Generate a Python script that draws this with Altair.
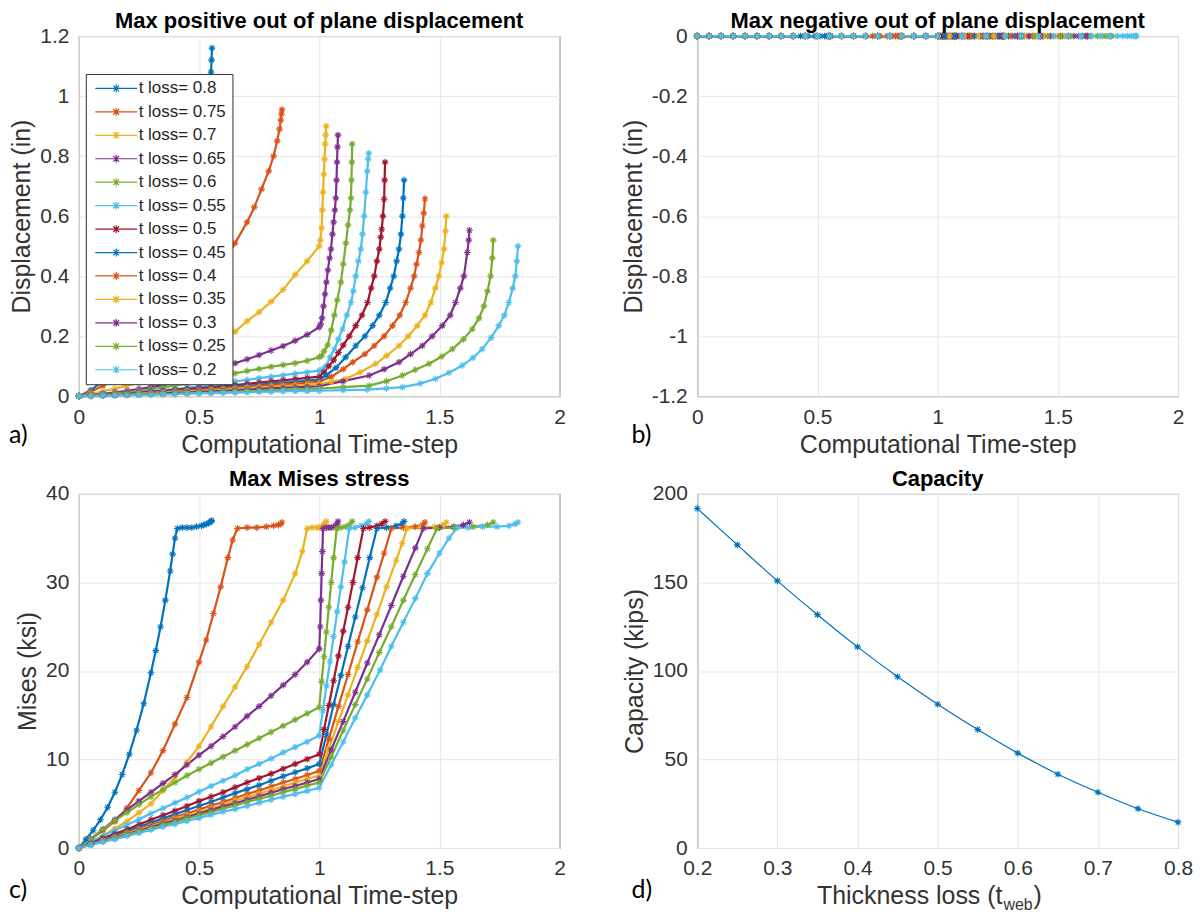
import altair as alt
import pandas as pd

# ---------------- data ----------------
LOSSES = ["0.8", "0.75", "0.7", "0.65", "0.6", "0.55", "0.5", "0.45", "0.4", "0.35", "0.3", "0.25", "0.2"]
LABELS = ["t loss= " + s for s in LOSSES]
COLORS = ["#0072BD", "#D95319", "#EDB120", "#7E2F8E", "#77AC30", "#4DBEEE", "#A2142F",
          "#0072BD", "#D95319", "#EDB120", "#7E2F8E", "#77AC30", "#4DBEEE"]

PRE_T = [0, 0.05, 0.1, 0.15, 0.2, 0.25, 0.3, 0.35, 0.4, 0.45, 0.5, 0.55, 0.6, 0.65, 0.7,
         0.75, 0.8, 0.85, 0.9, 0.95, 1.0]

# panel a: max positive out-of-plane displacement (in)
DISP_T = {
    "0.8": [0, 0.05, 0.1, 0.15, 0.2, 0.25, 0.3, 0.35, 0.4, 0.43, 0.46, 0.49, 0.51, 0.53, 0.54, 0.545, 0.55, 0.552, 0.554],
    "0.75": [0, 0.05, 0.1, 0.15, 0.2, 0.25, 0.3, 0.35, 0.4, 0.45, 0.5, 0.55, 0.6, 0.65, 0.7, 0.73, 0.76, 0.79, 0.81, 0.825, 0.835, 0.84, 0.843, 0.845],
    "0.7": PRE_T + [1.005, 1.01, 1.013, 1.016, 1.019, 1.022, 1.025, 1.027, 1.029],
    "0.65": PRE_T + [1.006, 1.012, 1.018, 1.024, 1.03, 1.036, 1.043, 1.049, 1.055, 1.06, 1.065, 1.069, 1.072, 1.074, 1.076, 1.078],
    "0.6": PRE_T + [1.01, 1.02, 1.035, 1.05, 1.063, 1.075, 1.09, 1.1, 1.111, 1.12, 1.128, 1.132, 1.134, 1.136, 1.137],
    "0.55": PRE_T + [1.015, 1.028, 1.045, 1.063, 1.08, 1.097, 1.115, 1.132, 1.142, 1.152, 1.163, 1.173, 1.18, 1.187, 1.194, 1.2, 1.204, 1.206],
    "0.5": PRE_T + [1.02, 1.04, 1.06, 1.08, 1.1, 1.125, 1.152, 1.178, 1.201, 1.216, 1.229, 1.24, 1.25, 1.256, 1.26, 1.265, 1.27, 1.272, 1.274],
    "0.45": PRE_T + [1.03, 1.07, 1.11, 1.152, 1.19, 1.222, 1.25, 1.277, 1.295, 1.31, 1.322, 1.332, 1.34, 1.346, 1.35, 1.353],
    "0.4": PRE_T + [1.05, 1.1, 1.139, 1.19, 1.229, 1.27, 1.305, 1.335, 1.36, 1.38, 1.395, 1.405, 1.415, 1.423, 1.429, 1.435, 1.44],
    "0.35": PRE_T + [1.05, 1.111, 1.17, 1.235, 1.28, 1.332, 1.37, 1.408, 1.44, 1.464, 1.483, 1.498, 1.509, 1.519, 1.525, 1.529],
    "0.3": PRE_T + [1.1, 1.208, 1.27, 1.332, 1.38, 1.429, 1.47, 1.512, 1.545, 1.567, 1.587, 1.602, 1.616, 1.622, 1.625],
    "0.25": PRE_T + [1.1, 1.208, 1.28, 1.346, 1.4, 1.457, 1.51, 1.554, 1.6, 1.637, 1.665, 1.685, 1.7, 1.713, 1.72, 1.724],
    "0.2": PRE_T + [1.1, 1.2, 1.28, 1.346, 1.42, 1.484, 1.54, 1.595, 1.64, 1.678, 1.715, 1.747, 1.77, 1.789, 1.805, 1.816, 1.822, 1.827],
}
DISP_V = {
    "0.8": [0, 0.02, 0.05, 0.08, 0.12, 0.16, 0.21, 0.27, 0.36, 0.43, 0.52, 0.64, 0.74, 0.86, 0.95, 1.02, 1.08, 1.12, 1.16],
    "0.75": [0, 0.015, 0.035, 0.055, 0.08, 0.11, 0.14, 0.18, 0.22, 0.27, 0.32, 0.38, 0.44, 0.51, 0.58, 0.63, 0.69, 0.75, 0.8, 0.85, 0.89, 0.92, 0.94, 0.955],
    "0.7": [0, 0.008, 0.016, 0.025, 0.035, 0.045, 0.057, 0.07, 0.085, 0.1, 0.12, 0.145, 0.18, 0.215, 0.25, 0.28, 0.315, 0.355, 0.405, 0.45, 0.5,
            0.52, 0.56, 0.62, 0.68, 0.74, 0.79, 0.84, 0.87, 0.9],
    "0.65": [0, 0.004, 0.008, 0.013, 0.018, 0.024, 0.03, 0.037, 0.045, 0.054, 0.064, 0.076, 0.09, 0.11, 0.123, 0.137, 0.152, 0.167, 0.185, 0.205, 0.23,
             0.24, 0.26, 0.3, 0.34, 0.38, 0.42, 0.46, 0.49, 0.54, 0.58, 0.62, 0.66, 0.72, 0.78, 0.83, 0.87],
    "0.6": [0, 0.003, 0.006, 0.009, 0.013, 0.018, 0.023, 0.029, 0.035, 0.042, 0.05, 0.06, 0.068, 0.076, 0.084, 0.091, 0.098, 0.104, 0.11, 0.118, 0.13,
            0.135, 0.15, 0.17, 0.22, 0.27, 0.32, 0.38, 0.44, 0.51, 0.57, 0.62, 0.66, 0.72, 0.78, 0.84],
    "0.55": [0, 0.002, 0.004, 0.007, 0.01, 0.013, 0.016, 0.02, 0.024, 0.028, 0.033, 0.038, 0.043, 0.049, 0.054, 0.06, 0.065, 0.07, 0.075, 0.08, 0.085,
             0.09, 0.1, 0.13, 0.157, 0.19, 0.224, 0.27, 0.312, 0.35, 0.4, 0.45, 0.49, 0.54, 0.6, 0.68, 0.75, 0.79, 0.81],
    "0.5": [0, 0.002, 0.004, 0.006, 0.009, 0.012, 0.015, 0.018, 0.021, 0.024, 0.027, 0.03, 0.034, 0.037, 0.041, 0.045, 0.049, 0.053, 0.057, 0.061, 0.065,
            0.08, 0.1, 0.12, 0.145, 0.17, 0.2, 0.235, 0.27, 0.312, 0.36, 0.4, 0.45, 0.49, 0.53, 0.556, 0.6, 0.656, 0.72, 0.78],
    "0.45": [0, 0.002, 0.004, 0.006, 0.008, 0.01, 0.013, 0.015, 0.018, 0.02, 0.023, 0.026, 0.029, 0.032, 0.035, 0.038, 0.042, 0.045, 0.048, 0.052, 0.055,
             0.07, 0.095, 0.13, 0.168, 0.2, 0.235, 0.27, 0.312, 0.36, 0.4, 0.45, 0.49, 0.54, 0.6, 0.66, 0.72],
    "0.4": [0, 0.002, 0.003, 0.005, 0.007, 0.009, 0.011, 0.013, 0.016, 0.018, 0.02, 0.023, 0.025, 0.028, 0.031, 0.034, 0.037, 0.04, 0.042, 0.045, 0.048,
            0.065, 0.09, 0.113, 0.14, 0.168, 0.2, 0.235, 0.27, 0.312, 0.36, 0.4, 0.44, 0.479, 0.52, 0.567, 0.61, 0.658],
    "0.35": [0, 0.001, 0.003, 0.004, 0.006, 0.008, 0.01, 0.012, 0.014, 0.016, 0.018, 0.02, 0.022, 0.024, 0.027, 0.029, 0.031, 0.033, 0.035, 0.038, 0.04,
             0.048, 0.058, 0.08, 0.108, 0.135, 0.168, 0.2, 0.235, 0.27, 0.312, 0.36, 0.4, 0.445, 0.49, 0.55, 0.6],
    "0.3": [0, 0.001, 0.002, 0.003, 0.005, 0.006, 0.008, 0.009, 0.011, 0.013, 0.015, 0.016, 0.018, 0.02, 0.022, 0.024, 0.026, 0.028, 0.029, 0.031, 0.033,
            0.05, 0.069, 0.09, 0.113, 0.14, 0.168, 0.2, 0.235, 0.27, 0.312, 0.36, 0.4, 0.479, 0.52, 0.553],
    "0.25": [0, 0.001, 0.002, 0.003, 0.004, 0.005, 0.006, 0.007, 0.008, 0.01, 0.011, 0.012, 0.014, 0.015, 0.017, 0.018, 0.02, 0.021, 0.022, 0.024, 0.025,
             0.03, 0.035, 0.05, 0.069, 0.088, 0.108, 0.132, 0.157, 0.19, 0.224, 0.26, 0.3, 0.35, 0.4, 0.46, 0.52],
    "0.2": [0, 0.001, 0.002, 0.002, 0.003, 0.004, 0.005, 0.006, 0.007, 0.008, 0.009, 0.01, 0.011, 0.012, 0.013, 0.014, 0.015, 0.016, 0.017, 0.017, 0.018,
            0.02, 0.022, 0.026, 0.03, 0.042, 0.058, 0.078, 0.102, 0.128, 0.157, 0.195, 0.235, 0.27, 0.312, 0.36, 0.4, 0.45, 0.5],
}

# panel b: max negative out-of-plane displacement reads 0 (in) for every series
NEG_LEVEL = 0.0

# panel c: max Mises stress (ksi)
MISES_T = {
    "0.8": [0, 0.03, 0.06, 0.09, 0.12, 0.15, 0.18, 0.21, 0.24, 0.27, 0.3, 0.32, 0.34, 0.36, 0.38, 0.39, 0.4, 0.41, 0.43, 0.45, 0.47, 0.49, 0.51, 0.52, 0.53, 0.54, 0.545, 0.55, 0.553],
    "0.75": [0, 0.05, 0.1, 0.15, 0.2, 0.25, 0.3, 0.35, 0.4, 0.45, 0.5, 0.53, 0.56, 0.59, 0.62, 0.64, 0.66, 0.7, 0.74, 0.78, 0.81, 0.83, 0.84, 0.845],
    "0.7": [0, 0.05, 0.1, 0.15, 0.2, 0.25, 0.3, 0.35, 0.4, 0.45, 0.5, 0.55, 0.6, 0.65, 0.7, 0.75, 0.8, 0.85, 0.9, 0.93, 0.95, 0.97, 0.99, 1.0, 1.01, 1.02, 1.025, 1.029],
    "0.65": PRE_T + [1.004, 1.007, 1.01, 1.013, 1.016, 1.03, 1.04, 1.05, 1.06, 1.07, 1.075, 1.078],
    "0.6": PRE_T + [1.01, 1.02, 1.03, 1.04, 1.05, 1.06, 1.073, 1.09, 1.11, 1.125, 1.137],
    "0.55": PRE_T + [1.015, 1.03, 1.045, 1.06, 1.075, 1.09, 1.105, 1.125, 1.15, 1.175, 1.195, 1.206],
    "0.5": PRE_T + [1.02, 1.04, 1.06, 1.08, 1.1, 1.12, 1.14, 1.16, 1.184, 1.21, 1.24, 1.26, 1.274],
    "0.45": PRE_T + [1.03, 1.06, 1.09, 1.12, 1.15, 1.18, 1.21, 1.24, 1.28, 1.32, 1.345, 1.353],
    "0.4": PRE_T + [1.04, 1.08, 1.12, 1.16, 1.2, 1.24, 1.27, 1.3, 1.35, 1.4, 1.43, 1.44],
    "0.35": PRE_T + [1.04, 1.08, 1.12, 1.16, 1.2, 1.24, 1.28, 1.32, 1.345, 1.365, 1.42, 1.48, 1.515, 1.529],
    "0.3": PRE_T + [1.05, 1.1, 1.15, 1.2, 1.25, 1.3, 1.35, 1.4, 1.433, 1.5, 1.56, 1.6, 1.625],
    "0.25": PRE_T + [1.05, 1.1, 1.15, 1.2, 1.25, 1.3, 1.35, 1.4, 1.45, 1.49, 1.56, 1.64, 1.7, 1.724],
    "0.2": PRE_T + [1.05, 1.1, 1.15, 1.2, 1.253, 1.3, 1.35, 1.4, 1.45, 1.5, 1.54, 1.575, 1.62, 1.68, 1.74, 1.79, 1.815, 1.827],
}
MISES_V = {
    "0.8": [0, 1, 2, 3.2, 4.6, 6.3, 8.3, 10.6, 13.3, 16.3, 19.8, 22.3, 25, 28, 31.3, 33.2, 35, 36.1, 36.2, 36.2, 36.2, 36.3, 36.4, 36.5, 36.6, 36.7, 36.8, 36.9, 37],
    "0.75": [0, 1, 2, 3, 4.5, 6.5, 8.5, 11, 14, 17, 21, 23.5, 26.5, 29.5, 32.8, 34.8, 36.1, 36.2, 36.2, 36.3, 36.4, 36.5, 36.6, 36.8],
    "0.7": [0, 0.7, 1.4, 2.2, 3, 4, 5, 6.5, 8, 9.7, 11.5, 13.7, 16, 18.2, 20.5, 23, 25.5, 28, 31, 33.5, 36.1, 36.2, 36.2, 36.2, 36.3, 36.5, 36.7, 36.9],
    "0.65": [0, 1, 2.1, 3.2, 4.3, 5.3, 6.3, 7.3, 8.3, 9.4, 10.5, 11.5, 12.6, 13.7, 14.9, 16, 17.2, 18.4, 19.6, 21, 22.5,
             25, 28, 31, 33.5, 36.1, 36.2, 36.2, 36.2, 36.3, 36.4, 36.6, 36.9],
    "0.6": [0, 1.05, 2.1, 3.1, 4, 4.9, 5.8, 6.6, 7.4, 8.2, 8.9, 9.6, 10.3, 11, 11.7, 12.4, 13.1, 13.8, 14.5, 15.2, 15.9,
            18.8, 21.6, 24.4, 27.2, 30, 32.8, 36.1, 36.2, 36.3, 36.5, 36.9],
    "0.55": [0, 0.7, 1.35, 2, 2.6, 3.25, 3.9, 4.5, 5.1, 5.7, 6.35, 7, 7.6, 8.2, 8.9, 9.5, 10.1, 10.8, 11.4, 12, 12.7,
             15.5, 18.3, 21.1, 23.9, 26.7, 29.5, 32.3, 36.1, 36.2, 36.4, 36.6, 36.9],
    "0.5": [0, 0.55, 1.1, 1.6, 2.1, 2.65, 3.2, 3.7, 4.2, 4.75, 5.3, 5.8, 6.3, 6.85, 7.4, 7.9, 8.4, 8.95, 9.5, 10.05, 10.6,
            13.4, 16.1, 18.9, 21.7, 24.5, 27.2, 30, 32.8, 36.1, 36.2, 36.4, 36.6, 36.9],
    "0.45": [0, 0.5, 0.95, 1.45, 1.9, 2.4, 2.85, 3.35, 3.8, 4.3, 4.75, 5.2, 5.7, 6.2, 6.65, 7.1, 7.6, 8.1, 8.55, 9, 9.5,
             12.8, 16.2, 19.5, 22.8, 26.1, 29.4, 32.8, 36.1, 36.2, 36.4, 36.6, 36.9],
    "0.4": [0, 0.45, 0.9, 1.3, 1.75, 2.2, 2.6, 3.05, 3.5, 3.9, 4.35, 4.8, 5.2, 5.65, 6.1, 6.5, 6.95, 7.4, 7.8, 8.25, 8.7,
            12.3, 16, 19.6, 23.3, 26.9, 30.6, 33.3, 36.1, 36.2, 36.3, 36.5, 36.8],
    "0.35": [0, 0.4, 0.8, 1.2, 1.65, 2.05, 2.45, 2.85, 3.3, 3.7, 4.1, 4.5, 4.9, 5.35, 5.75, 6.15, 6.55, 6.95, 7.4, 7.8, 8.2,
             11.2, 14.3, 17.3, 20.4, 23.4, 26.4, 29.5, 32.5, 34.4, 36.1, 36.2, 36.3, 36.5, 36.8],
    "0.3": [0, 0.4, 0.8, 1.15, 1.55, 1.95, 2.35, 2.75, 3.1, 3.5, 3.9, 4.3, 4.7, 5.05, 5.45, 5.85, 6.25, 6.65, 7, 7.4, 7.8,
            11.1, 14.3, 17.6, 20.9, 24.1, 27.4, 30.7, 33.9, 36.1, 36.2, 36.3, 36.5, 36.8],
    "0.25": [0, 0.35, 0.75, 1.1, 1.5, 1.85, 2.2, 2.6, 2.95, 3.35, 3.7, 4.05, 4.45, 4.8, 5.2, 5.55, 5.9, 6.3, 6.65, 7.05, 7.4,
             10.3, 13.3, 16.2, 19.1, 22.1, 25, 28, 30.9, 33.8, 36.1, 36.2, 36.3, 36.5, 36.8],
    "0.2": [0, 0.35, 0.7, 1, 1.35, 1.7, 2.05, 2.4, 2.7, 3.05, 3.4, 3.75, 4.1, 4.4, 4.75, 5.1, 5.45, 5.8, 6.1, 6.45, 6.8,
            9.4, 12, 14.7, 17.3, 20.1, 22.8, 25.5, 28.2, 31, 33.3, 35, 36.2, 36.2, 36.3, 36.3, 36.4, 36.6, 36.8],
}

# panel d: capacity (kips) vs thickness loss
THICK = [0.2, 0.25, 0.3, 0.35, 0.4, 0.45, 0.5, 0.55, 0.6, 0.65, 0.7, 0.75, 0.8]
CAP = [191.8, 171.2, 150.9, 131.8, 113.6, 96.7, 81.2, 66.9, 53.6, 41.7, 31.5, 22.2, 14.6]

X_TICKS = [0, 0.5, 1, 1.5, 2]
YA_TICKS = [0, 0.2, 0.4, 0.6, 0.8, 1.0, 1.2]
YB_TICKS = [-1.2, -1.0, -0.8, -0.6, -0.4, -0.2, 0]
YC_TICKS = [0, 10, 20, 30, 40]
XD_TICKS = [0.2, 0.3, 0.4, 0.5, 0.6, 0.7, 0.8]
YD_TICKS = [0, 50, 100, 150, 200]

# ---------------- styling ----------------
FONT = "Liberation Sans"
TXT = "#333333"
STAR = "M-1,0L1,0M0,-1L0,1M-0.7,-0.7L0.7,0.7M-0.7,0.7L0.7,-0.7"
LEG_STAR = "M-4,0L4,0M0,-0.75L0,0.75M-0.55,-0.55L0.55,0.55M-0.55,0.55L0.55,-0.55"
W = 482
H_TOP = 361
H_BOT = 355
LABEL_EXPR = "replace(format(datum.value, '~g'), '\u2212', '-')"
TICK_FS = 21
AXT_FS = 25


def frame(T, V):
    rows = []
    for lab, name in zip(LOSSES, LABELS):
        t, v = T[lab], V[lab]
        assert len(t) == len(v), lab
        for i, (a, b) in enumerate(zip(t, v)):
            rows.append({"label": name, "t": a, "v": b, "i": i})
    return pd.DataFrame(rows)


disp_df = frame(DISP_T, DISP_V)
neg_df = frame(DISP_T, {k: [NEG_LEVEL] * len(DISP_T[k]) for k in LOSSES})
mises_df = frame(MISES_T, MISES_V)
cap_df = pd.DataFrame({"tw": THICK, "cap": CAP})


def axis(title, values, label_pad):
    return alt.Axis(title=title, values=values, grid=True, gridColor="#e6e6e6", gridWidth=1,
                    ticks=False, domain=False, labelFont=FONT, labelFontSize=TICK_FS, labelColor=TXT,
                    labelPadding=label_pad, labelFlush=False, labelOverlap=False,
                    labelExpr=LABEL_EXPR, titleFont=FONT, titleFontSize=AXT_FS,
                    titleFontWeight="normal", titleColor=TXT, titlePadding=5)


def title(text):
    return alt.TitleParams(text=text, font=FONT, fontSize=22, fontWeight="bold",
                           color="black", offset=-8, anchor="middle")


def tag_layer(text, x, y):
    return alt.Chart(pd.DataFrame({"s": [text]})).mark_text(
        align="left", baseline="middle", font="Lato", fontSize=25, color="black"
    ).encode(text="s:N", x=alt.value(x), y=alt.value(y))


def series_panel(df, ydom, yticks, ytitle, ttl, tag, tag_x, h, tag_dy, legend):
    x = alt.X("t:Q", scale=alt.Scale(domain=[0, 2], nice=False, zero=False),
              axis=axis("Computational Time-step", X_TICKS, 10))
    y = alt.Y("v:Q", scale=alt.Scale(domain=ydom, nice=False, zero=False),
              axis=axis(ytitle, yticks, 10))
    color = alt.Color("label:N", scale=alt.Scale(domain=LABELS, range=COLORS), legend=legend)
    base = alt.Chart(df)
    line = base.mark_line(strokeWidth=2.2).encode(x=x, y=y, color=color, order=alt.Order("i:Q"))
    pts = base.mark_point(shape=STAR, size=45, filled=False, strokeWidth=1.1, opacity=1).encode(
        x=x, y=y, color=color)
    return alt.layer(line, pts, tag_layer(tag, tag_x, h + tag_dy)).properties(
        width=W, height=h, title=title(ttl))


legend_a = alt.Legend(orient="none", legendX=7, legendY=38, title=None,
                      fillColor="white", strokeColor="#333333", padding=6,
                      labelFont=FONT, labelFontSize=17, labelColor="#262626",
                      labelOffset=14, labelLimit=300,
                      symbolType=LEG_STAR, symbolSize=110, symbolStrokeWidth=1.2,
                      symbolOffset=16, rowPadding=5.5)

panel_a = series_panel(disp_df, [0, 1.2], YA_TICKS, "Displacement (in)",
                       "Max positive out of plane displacement", "a)", -70, H_TOP, 39, legend_a)
panel_b = series_panel(neg_df, [-1.2, 0], YB_TICKS, "Displacement (in)",
                       "Max negative out of plane displacement", "b)", -66, H_TOP, 39, None)
panel_c = series_panel(mises_df, [0, 40], YC_TICKS, "Mises (ksi)",
                       "Max Mises stress", "c)", -70, H_BOT, 42, None)

# panel d
xd = alt.X("tw:Q", scale=alt.Scale(domain=[0.2, 0.8], nice=False, zero=False),
           axis=axis(None, XD_TICKS, 10))
yd = alt.Y("cap:Q", scale=alt.Scale(domain=[0, 200], nice=False, zero=False),
           axis=axis("Capacity (kips)", YD_TICKS, 10))
base_d = alt.Chart(cap_df)
line_d = base_d.mark_line(color="#0072BD", strokeWidth=1.2, interpolate="monotone").encode(x=xd, y=yd)
pts_d = base_d.mark_point(shape=STAR, size=45, filled=False, strokeWidth=1.1, opacity=1,
                          color="#0072BD").encode(x=xd, y=yd)
xt_main = alt.Chart(pd.DataFrame({"s": ["Thickness loss (t"]})).mark_text(
    align="right", baseline="middle", font=FONT, fontSize=AXT_FS, color=TXT
).encode(text="s:N", x=alt.value(306), y=alt.value(H_BOT + 48))
xt_sub = alt.Chart(pd.DataFrame({"s": ["web"]})).mark_text(
    align="left", baseline="middle", font=FONT, fontSize=16, color=TXT
).encode(text="s:N", x=alt.value(307), y=alt.value(H_BOT + 57))
xt_end = alt.Chart(pd.DataFrame({"s": [")"]})).mark_text(
    align="left", baseline="middle", font=FONT, fontSize=AXT_FS, color=TXT
).encode(text="s:N", x=alt.value(337), y=alt.value(H_BOT + 48))
panel_d = alt.layer(line_d, pts_d, xt_main, xt_sub, xt_end, tag_layer("d)", -66, H_BOT + 42)).properties(
    width=W, height=H_BOT, title=title("Capacity"))

top = alt.hconcat(panel_a, panel_b, spacing=54).resolve_scale(color="independent")
bottom = alt.hconcat(panel_c, panel_d, spacing=55).resolve_scale(color="independent")

chart = alt.vconcat(top, bottom, spacing=9).resolve_scale(color="independent").properties(
    padding={"left": 0, "top": 0, "right": 0, "bottom": 0}
).configure(background="white").configure_view(stroke="#4d4d4d", strokeWidth=1)

chart.save("out.html", embed_options={"renderer": "svg", "actions": False})
